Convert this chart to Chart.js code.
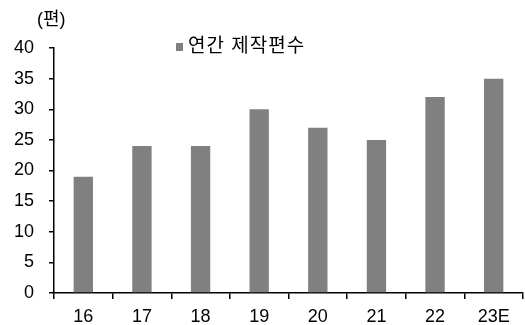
<!DOCTYPE html>
<html><head><meta charset="utf-8">
<script src="https://cdn.jsdelivr.net/npm/chart.js@4/dist/chart.umd.min.js"></script>
<style>html,body{margin:0;padding:0;background:#fff;}#wrap{width:525px;height:325px;}</style>
</head><body><div id="wrap"><canvas id="c" width="525" height="325"></canvas></div>
<script>
const categories = ['16','17','18','19','20','21','22','23E'];
const productions = [19, 24, 24, 30, 27, 25, 32, 35];
const seriesName = '연간 제작편수';
const unitLabel = '(편)';
const FONT = "'Liberation Sans', 'Noto Sans CJK KR', sans-serif";

const overlay = {
  id: 'overlay',
  afterDraw(chart) {
    const ctx = chart.ctx;
    ctx.save();
    ctx.fillStyle = '#000';
    ctx.textBaseline = 'middle';
    ctx.textAlign = 'left';
    ctx.font = "18px " + FONT;
    ctx.fillText(unitLabel, 37, 20);
    // legend
    const ds = chart.data.datasets[0];
    ctx.fillStyle = ds.backgroundColor;
    ctx.fillRect(176, 43, 7, 8);
    ctx.fillStyle = '#000';
    ctx.font = "19px " + FONT;
    ctx.letterSpacing = '1px';
    ctx.fillText(ds.label, 188, 47);
    ctx.restore();
  }
};

new Chart(document.getElementById('c'), {
  type: 'bar',
  data: {
    labels: categories,
    datasets: [{
      label: seriesName,
      data: productions,
      backgroundColor: '#808080',
      borderWidth: 0,
      categoryPercentage: 1,
      barPercentage: 0.33
    }]
  },
  options: {
    responsive: false,
    animation: false,
    layout: { padding: { top: 48, right: 2, left: 0, bottom: 0 } },
    plugins: { legend: { display: false }, tooltip: { enabled: false } },
    scales: {
      x: {
        offset: true,
        grid: { offset: true, drawOnChartArea: false, drawTicks: true, tickLength: 6, color: '#000', lineWidth: 1.5 },
        border: { color: '#000', width: 1.5 },
        ticks: { color: '#000', font: { size: 18, family: FONT }, padding: 7, maxRotation: 0 },
        afterFit(s) { s.height = 32; }
      },
      y: {
        min: 0, max: 40,
        grid: { drawOnChartArea: false, drawTicks: true, tickLength: 5, color: '#000', lineWidth: 1.5 },
        border: { color: '#000', width: 1.5 },
        ticks: { stepSize: 5, color: '#000', font: { size: 18, family: FONT }, padding: 15 },
        afterFit(s) { s.width = 54; }
      }
    }
  },
  plugins: [overlay]
});
</script></body></html>
